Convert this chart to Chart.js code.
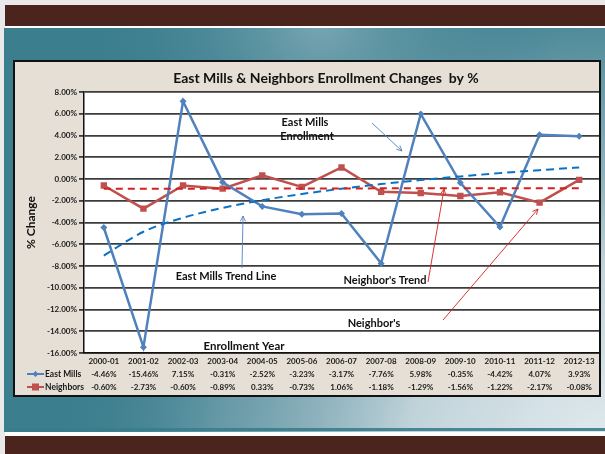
<!DOCTYPE html>
<html>
<head>
<meta charset="utf-8">
<script src="https://cdn.jsdelivr.net/npm/chart.js@4.4.1/dist/chart.umd.min.js"></script>
<style>
  html, body { margin: 0; padding: 0; background: #ffffff; }
  canvas { display: block; }
</style>
</head>
<body>
<canvas id="c" width="605" height="454"></canvas>
<script>
// School years
const years = ['2000-01','2001-02','2002-03','2003-04','2004-05','2005-06','2006-07',
               '2007-08','2008-09','2009-10','2010-11','2011-12','2012-13'];

// Year-over-year enrollment change, in percent
const eastMills = [-4.46, -15.46, 7.15, -0.31, -2.52, -3.23, -3.17, -7.76, 5.98, -0.35, -4.42, 4.07, 3.93];
const neighbors = [-0.60, -2.73, -0.60, -0.89, 0.33, -0.73, 1.06, -1.18, -1.29, -1.56, -1.22, -2.17, -0.08];

// Trend lines (logarithmic for East Mills, near-flat for Neighbors)
const eastMillsTrend = [-7.04, -4.85, -3.57, -2.66, -1.95, -1.38, -0.89, -0.47, -0.10, 0.24, 0.54, 0.81, 1.06];
const neighborsTrend = [-0.90, -0.89, -0.89, -0.88, -0.88, -0.87, -0.87, -0.86, -0.86, -0.85, -0.85, -0.84, -0.84];

// Y axis range, percent
const yMin = -16, yMax = 8;

const FONT = 'Lato, "Open Sans", "DejaVu Sans", sans-serif';

function arrow(ctx, x1, y1, x2, y2, color) {
  ctx.save();
  ctx.strokeStyle = color;
  ctx.lineWidth = 0.9;
  ctx.beginPath();
  ctx.moveTo(x1, y1);
  ctx.lineTo(x2, y2);
  ctx.stroke();
  const a = Math.atan2(y2 - y1, x2 - x1);
  const L = 6, w = 0.45;
  ctx.beginPath();
  ctx.moveTo(x2 - L * Math.cos(a - w), y2 - L * Math.sin(a - w));
  ctx.lineTo(x2, y2);
  ctx.lineTo(x2 - L * Math.cos(a + w), y2 - L * Math.sin(a + w));
  ctx.stroke();
  ctx.restore();
}

// Slide frame, panel and backdrop behind the chart
const backdrop = {
  id: 'backdrop',
  beforeDraw(chart) {
    const ctx = chart.ctx;
    const W = chart.width, H = chart.height;
    ctx.save();
    ctx.fillStyle = '#e9e9e9';
    ctx.fillRect(0, 0, W, H);
    // teal field
    ctx.fillStyle = '#3b7e8e';
    ctx.fillRect(4, 28, W - 4, 404);
    let g = ctx.createRadialGradient(610, 470, 10, 610, 470, 560);
    g.addColorStop(0, 'rgba(228,236,240,1)');
    g.addColorStop(0.35, 'rgba(200,216,222,0.95)');
    g.addColorStop(0.7, 'rgba(130,170,182,0.6)');
    g.addColorStop(1, 'rgba(59,126,142,0)');
    ctx.fillStyle = g;
    ctx.fillRect(4, 28, W - 4, 404);
    g = ctx.createRadialGradient(320, 20, 10, 320, 20, 240);
    g.addColorStop(0, 'rgba(130,172,184,0.8)');
    g.addColorStop(1, 'rgba(59,126,142,0)');
    ctx.fillStyle = g;
    ctx.fillRect(4, 28, W - 4, 404);
    ctx.fillStyle = 'rgba(58,125,140,0.9)';
    ctx.fillRect(4, 428, W - 4, 3);
    // brown bars
    ctx.fillStyle = '#4b251d';
    ctx.fillRect(5, 5, W - 5, 21);
    ctx.fillRect(5, 436, W - 5, H - 436);
    ctx.fillStyle = '#ffffff';
    ctx.fillRect(5, 26, W - 5, 2);
    ctx.fillRect(5, 432, W - 5, 4);
    // chart panel
    ctx.fillStyle = '#e5dfd5';
    ctx.fillRect(14, 61, 586, 335);
    ctx.strokeStyle = '#111111';
    ctx.lineWidth = 2;
    ctx.strokeRect(14, 61, 586, 335);
    // plot area
    const a = chart.chartArea;
    ctx.fillStyle = '#ffffff';
    ctx.fillRect(a.left, a.top, a.right - a.left, a.bottom - a.top);
    ctx.restore();
  }
};

// Title, notes, arrows and the data table under the axis
const overlay = {
  id: 'overlay',
  afterDraw(chart) {
    const ctx = chart.ctx;
    const xs = chart.scales.x;
    ctx.save();
    ctx.fillStyle = '#111111';
    ctx.textAlign = 'center';
    ctx.textBaseline = 'middle';
    ctx.font = 'bold 14px ' + FONT;
    ctx.fillText('East Mills & Neighbors Enrollment Changes  by %', 326, 78);

    ctx.font = 'bold 11px ' + FONT;
    ctx.fillText('East Mills', 305, 122);
    ctx.fillText('Enrollment', 307, 136);
    ctx.fillText('East Mills Trend Line', 226, 276);
    ctx.fillText("Neighbor's Trend", 385, 280);
    ctx.fillText("Neighbor's", 374, 323);
    ctx.font = 'bold 11.5px ' + FONT;
    ctx.fillText('Enrollment Year', 244, 346);

    arrow(ctx, 372, 123, 402, 151, '#4f81bd');
    arrow(ctx, 242, 268, 243, 216, '#4f81bd');
    arrow(ctx, 428, 282, 444, 189, '#d42020');
    arrow(ctx, 443, 320, 538, 209, '#d42020');

    // data table rows
    ctx.font = 'bold 8px ' + FONT;
    ctx.fillStyle = '#1a1a1a';
    years.forEach((_, i) => {
      const x = xs.getPixelForValue(i);
      ctx.fillText(eastMills[i].toFixed(2) + '%', x, 374);
      ctx.fillText(neighbors[i].toFixed(2) + '%', x, 387);
    });

    // series keys
    ctx.textAlign = 'left';
    ctx.font = 'bold 8.5px ' + FONT;
    ctx.fillText('East Mills', 45, 374);
    ctx.fillText('Neighbors', 45, 387);
    ctx.strokeStyle = '#4f81bd';
    ctx.lineWidth = 2;
    ctx.beginPath(); ctx.moveTo(27, 374); ctx.lineTo(44, 374); ctx.stroke();
    ctx.fillStyle = '#4f81bd';
    ctx.beginPath();
    ctx.moveTo(35.5, 371); ctx.lineTo(38.5, 374); ctx.lineTo(35.5, 377); ctx.lineTo(32.5, 374);
    ctx.closePath(); ctx.fill();
    ctx.strokeStyle = '#c0504d';
    ctx.beginPath(); ctx.moveTo(27, 387); ctx.lineTo(44, 387); ctx.stroke();
    ctx.fillStyle = '#c0504d';
    ctx.fillRect(32, 383.5, 7, 7);
    ctx.restore();
  }
};

new Chart(document.getElementById('c'), {
  type: 'line',
  data: {
    labels: years,
    datasets: [
      {
        label: 'Neighbors',
        data: neighbors,
        borderColor: '#c0504d',
        backgroundColor: '#c0504d',
        borderWidth: 2.5,
        pointStyle: 'rect',
        pointRadius: 4.5,
        pointBorderWidth: 0,
        tension: 0,
        order: 3
      },
      {
        label: 'East Mills',
        data: eastMills,
        borderColor: '#4f81bd',
        backgroundColor: '#4f81bd',
        borderWidth: 2.5,
        pointStyle: 'rectRot',
        pointRadius: 3.5,
        pointBorderWidth: 0,
        tension: 0,
        order: 2
      },
      {
        label: 'Neighbors trend',
        data: neighborsTrend,
        borderColor: '#d42020',
        borderWidth: 2,
        borderDash: [7, 5],
        pointRadius: 0,
        tension: 0,
        order: 1
      },
      {
        label: 'East Mills trend',
        data: eastMillsTrend,
        borderColor: '#0a72c4',
        borderWidth: 2,
        borderDash: [8, 5],
        pointRadius: 0,
        cubicInterpolationMode: 'monotone',
        order: 1
      }
    ]
  },
  options: {
    responsive: false,
    animation: false,
    devicePixelRatio: 1,
    layout: { autoPadding: false, padding: { left: 14, right: 6, top: 92, bottom: 81 } },
    plugins: {
      legend: { display: false },
      title: { display: false },
      tooltip: { enabled: false }
    },
    scales: {
      x: {
        type: 'category',
        offset: true,
        grid: { display: false, drawTicks: false },
        border: { display: true, color: '#111111', width: 1.5 },
        ticks: {
          autoSkip: false,
          maxRotation: 0,
          padding: 4,
          color: '#1a1a1a',
          font: { family: FONT, size: 8, weight: 'bold' }
        },
        afterFit(scale) { scale.height = 20; }
      },
      y: {
        min: yMin,
        max: yMax,
        border: { display: true, color: '#111111', width: 1.5 },
        grid: {
          color: c => (Math.round(c.tick.value) % 2 === 0 ? '#3c3c3c' : '#d9d9d9'),
          tickColor: '#3c3c3c',
          lineWidth: c => (Math.round(c.tick.value) % 2 === 0 ? 1.8 : 1),
          tickLength: 5
        },
        ticks: {
          stepSize: 1,
          padding: 2,
          color: '#1a1a1a',
          font: { family: FONT, size: 8, weight: 'bold' },
          callback: v => (Math.round(v) % 2 === 0 ? Number(v).toFixed(2) + '%' : '')
        },
        title: {
          display: true,
          text: '% Change',
          color: '#111111',
          font: { family: FONT, size: 12, weight: 'bold' },
          padding: { top: 10, bottom: 0 }
        },
        afterFit(scale) { scale.width = 70; }
      }
    }
  },
  plugins: [backdrop, overlay]
});
</script>
</body>
</html>
